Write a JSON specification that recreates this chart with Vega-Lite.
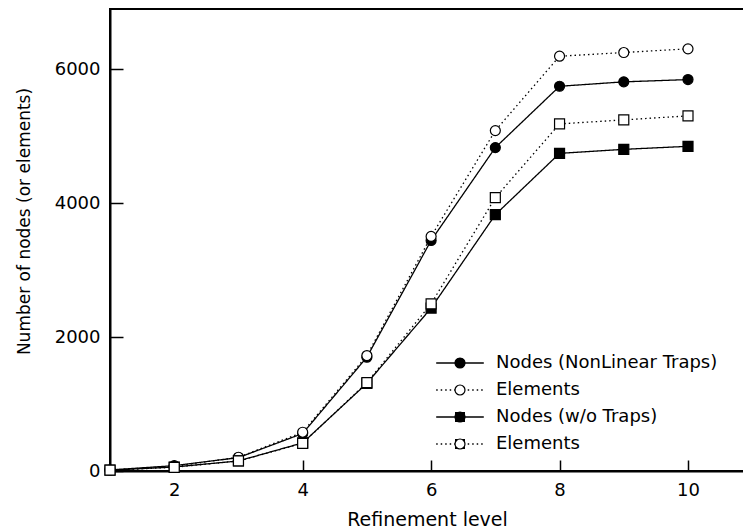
{
  "$schema": "https://vega.github.io/schema/vega-lite/v6.json",
  "autosize": {"type": "none"},
  "padding": {"left": 110, "top": 9, "right": 0, "bottom": 59},
  "width": 634,
  "height": 462,
  "background": "white",
  "config": {
    "font": "DejaVu Sans",
    "view": {"stroke": "black", "strokeWidth": 2},
    "axis": {
      "grid": true,
      "gridColor": "black",
      "gridWidth": 1.5,
      "gridOpacity": 1,
      "domainColor": "black",
      "domainWidth": 2,
      "ticks": false,
      "tickSize": 0,
      "labelColor": "black",
      "labelFont": "DejaVu Sans",
      "labelFontSize": 18,
      "titleColor": "black",
      "titleFont": "DejaVu Sans",
      "titleFontSize": 17,
      "titleFontWeight": "normal"
    },
    "legend": {
      "labelFont": "DejaVu Sans",
      "labelFontSize": 18,
      "labelColor": "black",
      "labelLimit": 0
    }
  },
  "data": {
    "values": [
      {"level": 1, "series": "Nodes (NonLinear Traps)", "count": 15},
      {"level": 2, "series": "Nodes (NonLinear Traps)", "count": 80},
      {"level": 3, "series": "Nodes (NonLinear Traps)", "count": 200},
      {"level": 4, "series": "Nodes (NonLinear Traps)", "count": 560},
      {"level": 5, "series": "Nodes (NonLinear Traps)", "count": 1700},
      {"level": 6, "series": "Nodes (NonLinear Traps)", "count": 3443},
      {"level": 7, "series": "Nodes (NonLinear Traps)", "count": 4830},
      {"level": 8, "series": "Nodes (NonLinear Traps)", "count": 5746},
      {"level": 9, "series": "Nodes (NonLinear Traps)", "count": 5812},
      {"level": 10, "series": "Nodes (NonLinear Traps)", "count": 5846},
      {"level": 1, "series": "Elements (NonLinear Traps)", "count": 15},
      {"level": 2, "series": "Elements (NonLinear Traps)", "count": 70},
      {"level": 3, "series": "Elements (NonLinear Traps)", "count": 205},
      {"level": 4, "series": "Elements (NonLinear Traps)", "count": 579},
      {"level": 5, "series": "Elements (NonLinear Traps)", "count": 1724},
      {"level": 6, "series": "Elements (NonLinear Traps)", "count": 3503},
      {"level": 7, "series": "Elements (NonLinear Traps)", "count": 5084},
      {"level": 8, "series": "Elements (NonLinear Traps)", "count": 6195},
      {"level": 9, "series": "Elements (NonLinear Traps)", "count": 6250},
      {"level": 10, "series": "Elements (NonLinear Traps)", "count": 6305},
      {"level": 1, "series": "Nodes (w/o Traps)", "count": 12},
      {"level": 2, "series": "Nodes (w/o Traps)", "count": 60},
      {"level": 3, "series": "Nodes (w/o Traps)", "count": 150},
      {"level": 4, "series": "Nodes (w/o Traps)", "count": 420},
      {"level": 5, "series": "Nodes (w/o Traps)", "count": 1310},
      {"level": 6, "series": "Nodes (w/o Traps)", "count": 2433},
      {"level": 7, "series": "Nodes (w/o Traps)", "count": 3828},
      {"level": 8, "series": "Nodes (w/o Traps)", "count": 4744},
      {"level": 9, "series": "Nodes (w/o Traps)", "count": 4804},
      {"level": 10, "series": "Nodes (w/o Traps)", "count": 4849},
      {"level": 1, "series": "Elements (w/o Traps)", "count": 12},
      {"level": 2, "series": "Elements (w/o Traps)", "count": 55},
      {"level": 3, "series": "Elements (w/o Traps)", "count": 150},
      {"level": 4, "series": "Elements (w/o Traps)", "count": 414},
      {"level": 5, "series": "Elements (w/o Traps)", "count": 1320},
      {"level": 6, "series": "Elements (w/o Traps)", "count": 2497},
      {"level": 7, "series": "Elements (w/o Traps)", "count": 4082},
      {"level": 8, "series": "Elements (w/o Traps)", "count": 5184},
      {"level": 9, "series": "Elements (w/o Traps)", "count": 5244},
      {"level": 10, "series": "Elements (w/o Traps)", "count": 5304}
    ]
  },
  "encoding": {
    "x": {
      "field": "level",
      "type": "quantitative",
      "title": "Refinement level",
      "scale": {"domain": [1, 10.872], "nice": false, "zero": false},
      "axis": {
        "values": [2, 4, 6, 8, 10],
        "gridDash": [11, 1000],
        "gridDashOffset": -451,
        "labelPadding": 10,
        "titleFontSize": 19,
        "titlePadding": 11
      }
    },
    "y": {
      "field": "count",
      "type": "quantitative",
      "title": "Number of nodes (or elements)",
      "scale": {"domain": [0, 6900], "nice": false},
      "axis": {
        "values": [0, 2000, 4000, 6000],
        "format": "d",
        "gridDash": [13, 1000],
        "labelPadding": 10,
        "titleX": -86,
        "titleY": 212,
        "titleAlign": "center",
        "titleBaseline": "middle",
        "titleAngle": -90
      }
    }
  },
  "layer": [
    {
      "mark": {"type": "line", "stroke": "black", "strokeWidth": 1.3},
      "encoding": {
        "strokeDash": {
          "field": "series",
          "type": "nominal",
          "scale": {
            "domain": ["Nodes (NonLinear Traps)", "Elements (NonLinear Traps)", "Nodes (w/o Traps)", "Elements (w/o Traps)"],
            "range": [[1, 0], [1.5, 3], [1, 0], [1.5, 3]]
          },
          "legend": {
            "orient": "none",
            "legendX": 341,
            "legendY": 345,
            "title": null,
            "padding": 0,
            "symbolType": "M-3.4,0H3.4",
            "symbolSize": 196,
            "symbolStrokeColor": "black",
            "symbolStrokeWidth": 1.3,
            "labelOffset": 27,
            "rowPadding": 9,
            "labelExpr": "indexof(datum.label, 'Elements') === 0 ? 'Elements' : datum.label"
          }
        }
      }
    },
    {
      "mark": {"type": "point", "filled": true, "stroke": "black", "strokeWidth": 1.2, "size": 100, "opacity": 1},
      "encoding": {
        "shape": {
          "field": "series",
          "type": "nominal",
          "sort": ["Nodes (NonLinear Traps)", "Elements (NonLinear Traps)", "Nodes (w/o Traps)", "Elements (w/o Traps)"],
          "scale": {"range": ["circle", "circle", "square", "square"]},
          "legend": {
            "orient": "none",
            "legendX": 341,
            "legendY": 345,
            "title": null,
            "padding": 0,
            "symbolSize": 100,
            "symbolStrokeColor": "black",
            "symbolStrokeWidth": 1.2,
            "symbolOpacity": 1,
            "labelExpr": "''",
            "rowPadding": 9
          }
        },
        "fill": {
          "field": "series",
          "type": "nominal",
          "sort": ["Nodes (NonLinear Traps)", "Elements (NonLinear Traps)", "Nodes (w/o Traps)", "Elements (w/o Traps)"],
          "scale": {"range": ["black", "white", "black", "white"]},
          "legend": {
            "orient": "none",
            "legendX": 341,
            "legendY": 345,
            "title": null,
            "padding": 0,
            "symbolSize": 100,
            "symbolStrokeColor": "black",
            "symbolStrokeWidth": 1.2,
            "symbolOpacity": 1,
            "labelExpr": "''",
            "rowPadding": 9
          }
        }
      }
    }
  ]
}
